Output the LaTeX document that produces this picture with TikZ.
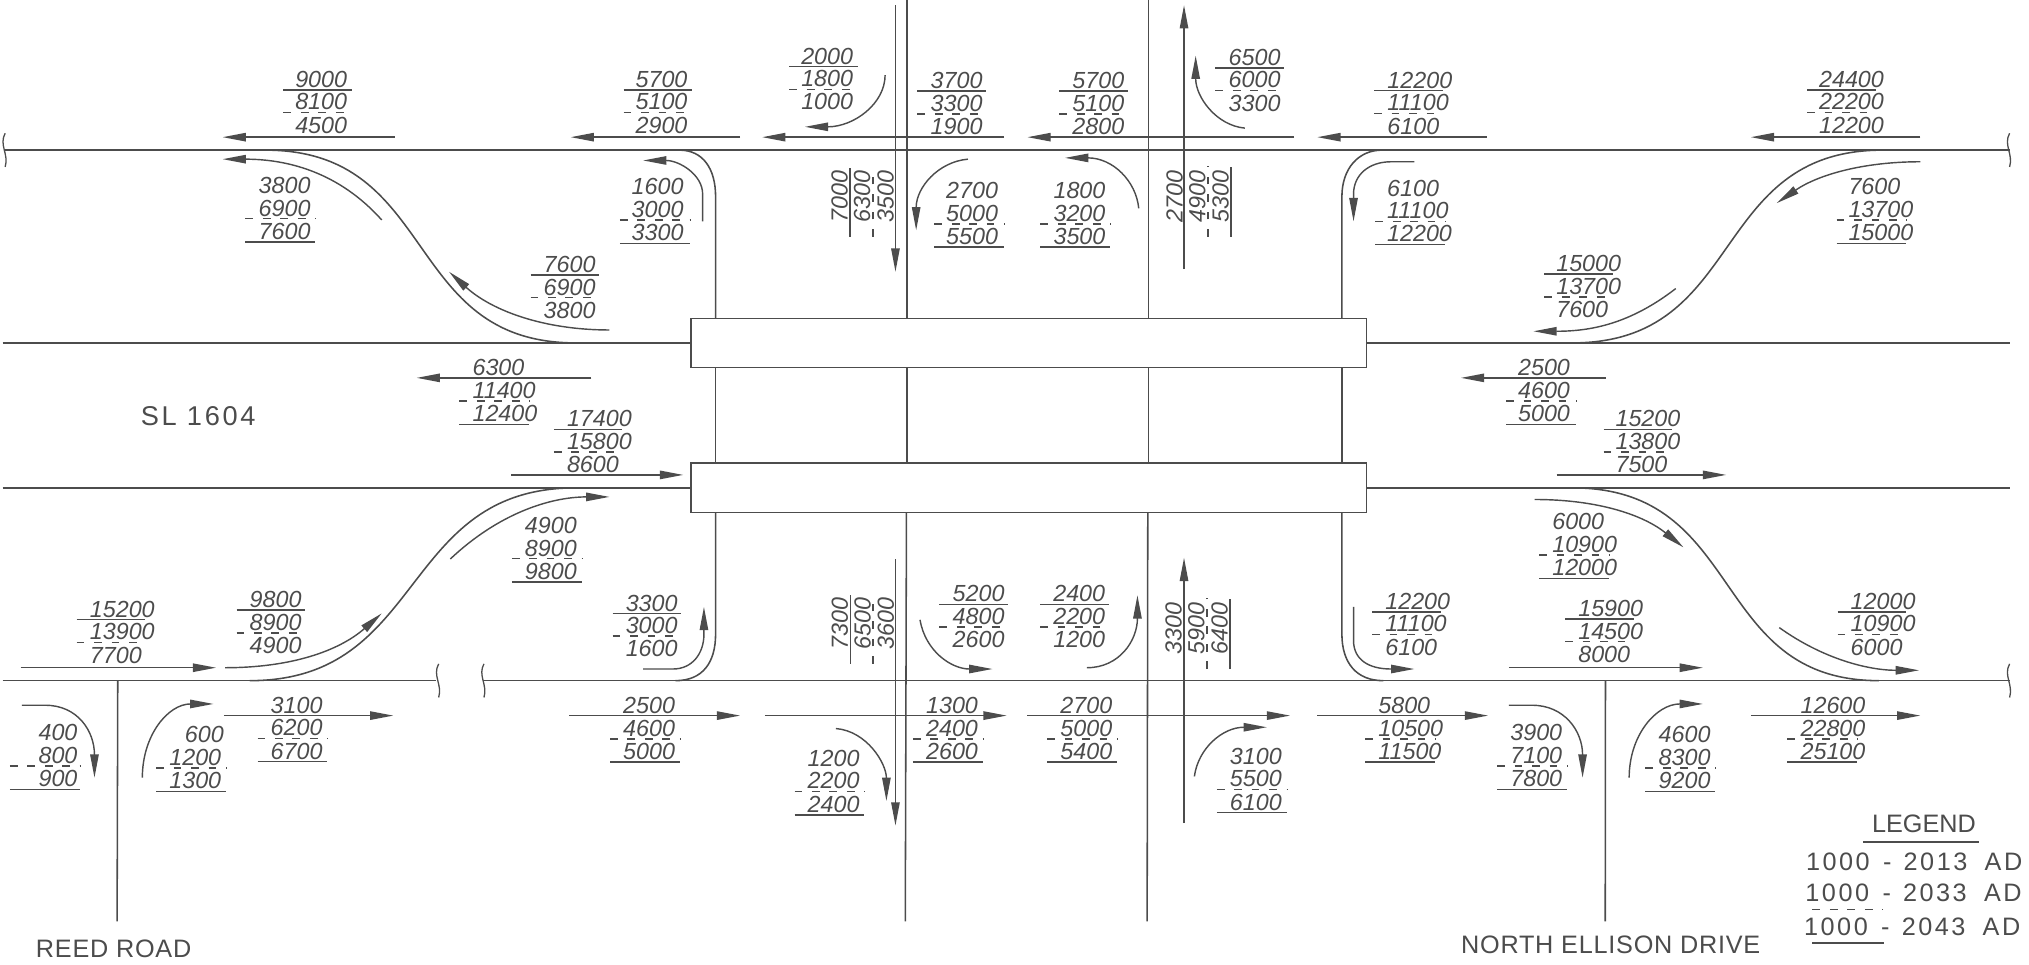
\documentclass[tikz,border=0pt]{standalone}
\usepackage{fontspec}
\setmainfont{Liberation Sans}
\newfontfamily\cadwide[LetterSpace=10]{Liberation Sans}
\newfontfamily\cadroad[LetterSpace=3]{Liberation Sans}
\usetikzlibrary{arrows.meta}
\definecolor{cadink}{gray}{0.3}
\tikzset{
  road/.style={cadink,line width=1.2pt},
  mainroad/.style={cadink,line width=1.6pt},
  flow/.style={cadink,line width=1.1pt,-{Triangle[length=18pt,width=6.5pt]}},
  volrule/.style={cadink,line width=1.2pt},
  voldash/.style={cadink,line width=1.2pt,dash pattern=on 6pt off 7.5pt},
  volnum/.style={cadink,font=\fontsize{18}{19}\selectfont\itshape,anchor=base west,inner sep=0pt,transform shape},
  label/.style={cadink,font=\fontsize{19.5}{20}\selectfont\cadroad,anchor=base west,inner sep=0pt},
  legendline/.style={cadink,font=\fontsize{19.5}{20}\selectfont\cadwide,anchor=base west,inner sep=0pt}
}
\newcommand{\voltop}[6][9]{%
  \begin{scope}[shift={(#3)}]
    \draw[volrule] (0,-17.5) -- (53,-17.5);
    \draw[voldash] (0,0) -- (47,0);
    \node[volnum] (#2a) at (#1,-19.5) {#4};
    \node[volnum] (#2b) at (#1,-2) {#5};
    \node[volnum] (#2c) at (#1,16) {#6};
  \end{scope}}
\newcommand{\volbot}[6][9]{%
  \begin{scope}[shift={(#3)}]
    \draw[voldash] (0,0) -- (54.6,0);
    \draw[volrule] (0,18) -- (54,18);
    \node[volnum] (#2a) at (#1,-19.5) {#4};
    \node[volnum] (#2b) at (#1,-2) {#5};
    \node[volnum] (#2c) at (#1,16) {#6};
  \end{scope}}
\newcommand{\breakmark}[2]{\draw[road,line width=1pt] (#1+1,#2-13) .. controls (#1-4,#2-4) and (#1+4,#2+3) .. (#1+1,#2+13);}
\begin{document}
\begin{tikzpicture}[x=1pt,y=-1pt]
  \useasboundingbox (0,0) rectangle (1568,745);

  \draw[mainroad] (3,116) -- (1553,116);
  \draw[road] (2,265) -- (534,265);
  \draw[road] (1056,265) -- (1553,265);
  \draw[road] (2,377) -- (534,377);
  \draw[road] (1056,377) -- (1553,377);
  \draw[road] (2,526) -- (337,526);
  \draw[road] (373,526) -- (1553,526);
  \breakmark{3}{116}
  \breakmark{1552}{116}
  \breakmark{1552}{526}
  \breakmark{338}{526}
  \breakmark{373}{526}

  \draw[road] (534,246) rectangle (1056,284);
  \draw[road] (534,358) rectangle (1056,396);

  \draw[road] (525,116) .. controls (543,116) and (553,130) .. (553,152) -- (553,246);
  \draw[road] (553,284) -- (553,358);
  \draw[road] (553,396) -- (553,490) .. controls (553,512) and (543,526) .. (522,526);
  \draw[road] (1068,116) .. controls (1050,116) and (1037,130) .. (1037,152) -- (1037,246);
  \draw[road] (1037,284) -- (1037,358);
  \draw[road] (1037,396) -- (1037,490) .. controls (1037,512) and (1048,526) .. (1069,526);
  \draw[road] (701,0) -- (701,246);
  \draw[road] (701,284) -- (701,358);
  \draw[road] (700.5,396) -- (699.6,712);
  \draw[road] (887.5,0) -- (887.5,246);
  \draw[road] (887.5,284) -- (887.5,358);
  \draw[road] (887,396) -- (886.5,712);
  \draw[road] (91,526) -- (90.5,712);
  \draw[road] (1240.7,526) -- (1240.5,712);

  \draw[road] (205,116) .. controls (340,116) and (310,265) .. (445,265);
  \draw[road] (1455,116) .. controls (1320,116) and (1350,265) .. (1215,265);
  \draw[road] (193,526) .. controls (330,526) and (308,377) .. (445,377);
  \draw[road] (1215,377) .. controls (1350,377) and (1320,526) .. (1452,526);

  \draw[flow] (295,170) .. controls (262,133) and (222,123) .. (172,123);
  \draw[flow] (471,255) .. controls (420,255) and (380,240) .. (347,210);
  \draw[flow] (1484,125) .. controls (1440,125) and (1405,135) .. (1373,157);
  \draw[flow] (1295,223) .. controls (1260,250) and (1230,256) .. (1185,256);
  \draw[flow] (174,516) .. controls (225,516) and (262,503) .. (295,474);
  \draw[flow] (348,432) .. controls (385,397) and (425,384) .. (471,384);
  \draw[flow] (1186,386) .. controls (1235,386) and (1270,398) .. (1301,423);
  \draw[flow] (1375,485) .. controls (1410,510) and (1445,518) .. (1483,518);

  \draw[flow] (305,106) -- (172,106);
  \draw[flow] (572,106) -- (441,106);
  \draw[flow] (776,106) -- (589,106);
  \draw[flow] (1000,106) -- (794,106);
  \draw[flow] (1149,106) -- (1018,106);
  \draw[flow] (1484,106) -- (1353,106);
  \draw[flow] (457,292) -- (322,292);
  \draw[flow] (1241,292) -- (1129,292);
  \draw[flow] (395,367) -- (528,367);
  \draw[flow] (1203,367) -- (1334,367);
  \draw[flow] (16,516) -- (167,516);
  \draw[flow] (1166,516) -- (1316,516);
  \draw[flow] (173,553) -- (304,553);
  \draw[flow] (440,553) -- (572,553);
  \draw[flow] (591,553) -- (778,553);
  \draw[flow] (794,553) -- (997,553);
  \draw[flow] (1018,553) -- (1150,553);
  \draw[flow] (1353,553) -- (1484,553);
  \draw[flow] (692,4) -- (692,210);
  \draw[flow] (692,432) -- (692,638);
  \draw[flow] (915,208) -- (915,4);
  \draw[flow] (915,636) -- (915,431);

  \draw[flow] (684,58) .. controls (684,80) and (660,98) .. (622,98);
  \draw[flow] (962,99) .. controls (940,97) and (924,75) .. (924,43);
  \draw[flow] (748,123) .. controls (725,125) and (708,145) .. (708,178);
  \draw[flow] (880,161) .. controls (878,140) and (860,122) .. (823,122);
  \draw[flow] (543,171) -- (543,150) .. controls (543,135) and (525,124) .. (497,124);
  \draw[flow] (1093,125) -- (1075,125) .. controls (1058,125) and (1046,135) .. (1046,150) -- (1046,171);
  \draw[flow] (497,517) -- (520,517) .. controls (535,517) and (544,505) .. (544,490) -- (544,469);
  \draw[flow] (1046,469) -- (1046,495) .. controls (1046,510) and (1058,517) .. (1075,517) -- (1093,517);
  \draw[flow] (711,479) .. controls (715,503) and (735,517) .. (767,517);
  \draw[flow] (840,516) .. controls (865,516) and (879,495) .. (879,460);
  \draw[flow] (646,563) .. controls (670,565) and (685,590) .. (685,619);
  \draw[flow] (923,600) .. controls (926,578) and (945,562) .. (979,562);
  \draw[flow] (17,545) -- (35,545) .. controls (60,545) and (73,565) .. (73,601);
  \draw[flow] (110,601) .. controls (110,568) and (130,544) .. (165,544);
  \draw[flow] (1166,545) -- (1184,545) .. controls (1209,545) and (1223,565) .. (1223,601);
  \draw[flow] (1259,601) .. controls (1259,568) and (1280,544) .. (1316,544);

  \voltop{wbA}{219,87}{9000}{8100}{4500}
  \voltop{wbB}{482,87}{5700}{5100}{2900}
  \voltop{lfA}{610,69}{2000}{1800}{1000}
  \voltop[10]{wbC}{709,88}{3700}{3300}{1900}
  \voltop[10]{wbD}{818.6,88}{5700}{5100}{2800}
  \voltop[10]{lfB}{939.3,70}{6500}{6000}{3300}
  \voltop[10]{wbE}{1062,87.6}{12200}{11100}{6100}
  \voltop{wbF}{1396.6,87}{24400}{22200}{12200}
  \volbot[10]{rpA}{189.7,169}{3800}{6900}{7600}
  \volbot{rtA}{479,170}{1600}{3000}{3300}
  \voltop[10]{rpB}{410,230}{7600}{6900}{3800}
  \volbot[10]{wbG}{355,310}{6300}{11400}{12400}
  \volbot{wbH}{1164,310}{2500}{4600}{5000}
  \volbot{ltA}{722,173}{2700}{5000}{5500}
  \volbot[10]{rtB}{804,173}{1800}{3200}{3500}
  \volbot{ltB}{1062.8,171}{6100}{11100}{12200}
  \volbot{rpC}{1419.3,170}{7600}{13700}{15000}
  \voltop{rpD}{1193.5,229.4}{15000}{13700}{7600}
  \voltop[10]{ebA}{428,349.4}{17400}{15800}{8600}
  \voltop{ebB}{1239.3,349.4}{15200}{13800}{7500}
  \volbot[10]{rpE}{395.5,431.7}{4900}{8900}{9800}
  \voltop[10]{rpF}{182.8,489}{9800}{8900}{4900}
  \voltop[10]{ebC}{59.3,496.4}{15200}{13900}{7700}
  \voltop[10]{ltC}{473.4,491.7}{3300}{3000}{1600}
  \voltop[10]{rtC}{726,484.7}{5200}{4800}{2600}
  \voltop[10]{ltD}{803.8,484.7}{2400}{2200}{1200}
  \voltop[10]{rtD}{1060.4,490.3}{12200}{11100}{6100}
  \voltop[10]{ebD}{1209.5,495.9}{15900}{14500}{8000}
  \voltop[10]{rpG}{1420,490.3}{12000}{10900}{6000}
  \volbot[10]{rpH}{1189.4,429}{6000}{10900}{12000}
  \volbot[10]{ebE}{199,570.6}{3100}{6200}{6700}
  \volbot[10]{ebF}{471.4,571}{2500}{4600}{5000}
  \volbot[10]{ebG}{705.5,571}{1300}{2400}{2600}
  \volbot[10]{ebH}{809.3,571}{2700}{5000}{5400}
  \volbot[10]{ebI}{1055,571}{5800}{10500}{11500}
  \volbot[10]{ebJ}{1381.3,571}{12600}{22800}{25100}
  \volbot[22]{rtE}{7.6,592}{400}{800}{900}
  \volbot[10]{ltE}{120.7,593.5}{\hspace*{12pt}600}{1200}{1300}
  \volbot[10]{rtF}{1157,592}{3900}{7100}{7800}
  \volbot[10]{ltF}{1271.6,593.5}{4600}{8300}{9200}
  \volbot[10]{rtG}{614,611.7}{1200}{2200}{2400}
  \volbot[10]{rtH}{940.3,610}{3100}{5500}{6100}

  \begin{scope}[shift={(674.5,183)},rotate=90]
    \voltop[11]{sbA}{0,0}{7000}{6300}{3500}
  \end{scope}
  \begin{scope}[shift={(933.4,183)},rotate=90]
    \volbot[11]{nbA}{0,0}{2700}{4900}{5300}
  \end{scope}
  \begin{scope}[shift={(674.8,513)},rotate=90]
    \voltop[11]{sbB}{0,0}{7300}{6500}{3600}
  \end{scope}
  \begin{scope}[shift={(932.7,517)},rotate=90]
    \volbot[11]{nbB}{0,0}{3300}{5900}{6400}
  \end{scope}

  \node[label,font=\fontsize{21}{22}\selectfont\cadwide] (slname) at (108.6,328.5) {SL 1604};
  \node[label] (reedname) at (27.6,740) {REED ROAD};
  \node[label] (ellisonname) at (1129,737) {NORTH ELLISON DRIVE};
  \node[label,font=\fontsize{19.5}{20}\selectfont] (legendname) at (1446.5,643.7) {LEGEND};
  \draw[volrule] (1439.7,650.7) -- (1529.7,650.7);
  \node[legendline] (legendA) at (1395.5,673) {1000\hspace{3pt} -\hspace{2pt} 2013\hspace{6pt} AD};
  \node[legendline] (legendB) at (1395,696.7) {1000\hspace{3pt} -\hspace{2pt} 2033\hspace{6pt} AD};
  \node[legendline] (legendC) at (1394,722.7) {1000\hspace{3pt} -\hspace{2pt} 2043\hspace{6pt} AD};
  \draw[voldash] (1400.6,703) -- (1455.2,703);
  \draw[volrule] (1400.6,728.8) -- (1456,728.8);
\end{tikzpicture}
\end{document}
